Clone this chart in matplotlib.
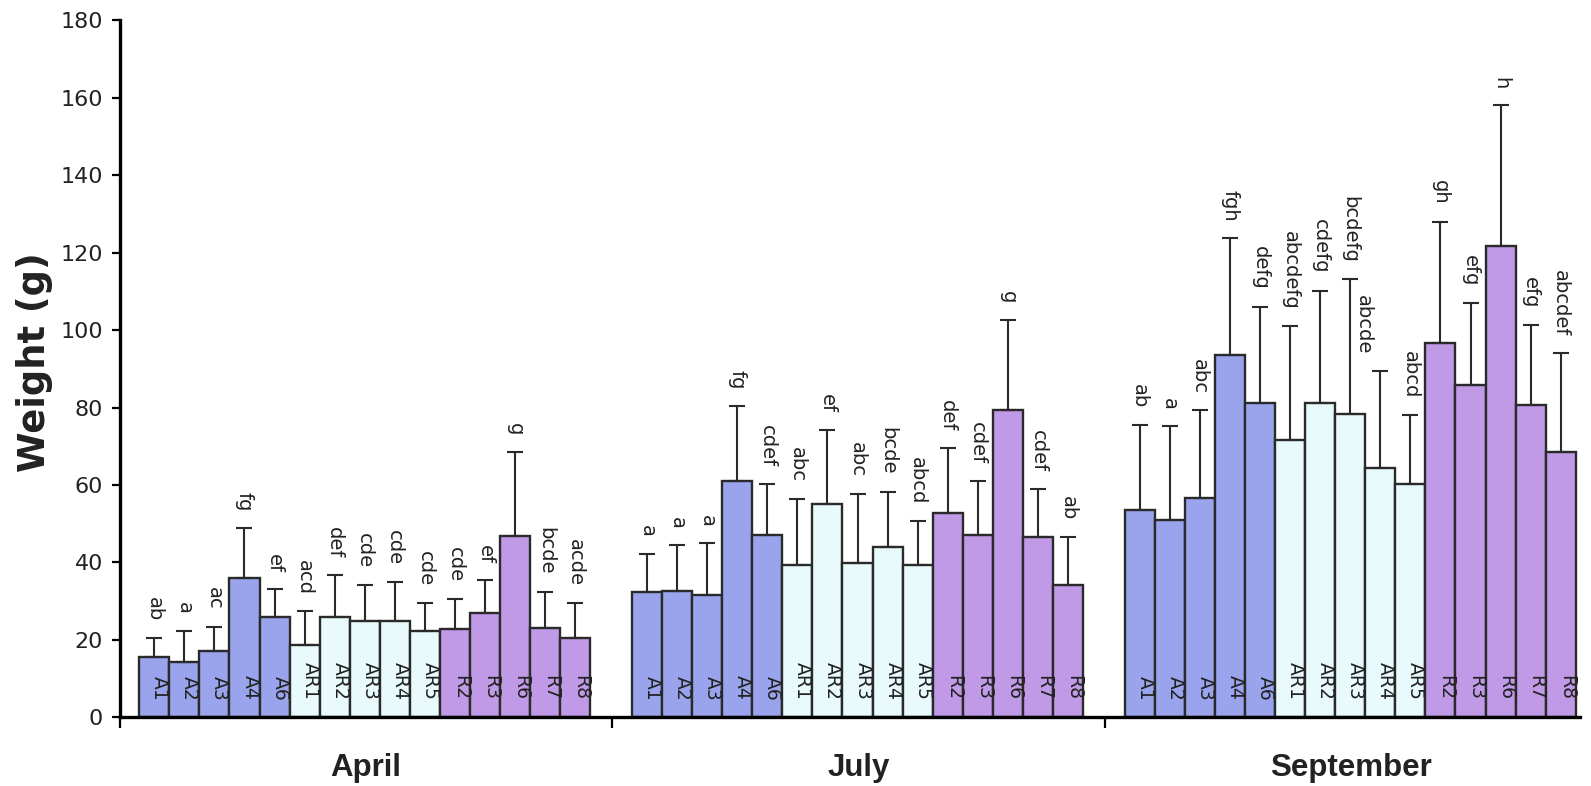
import matplotlib
matplotlib.use("Agg")
import matplotlib.pyplot as plt
import numpy as np

# ---------------- data ----------------
months = ["April", "July", "September"]
treatments = ["A1", "A2", "A3", "A4", "A6",
              "AR1", "AR2", "AR3", "AR4", "AR5",
              "R2", "R3", "R6", "R7", "R8"]

mean_april = [15.5, 14.4, 17.2, 36.1, 26.0, 18.7, 25.8, 24.8, 24.8, 22.4,
              22.8, 26.9, 46.9, 23.2, 20.6]
err_april = [5.1, 8.0, 6.2, 12.9, 7.1, 8.7, 10.9, 9.4, 10.2, 7.1,
             7.7, 8.5, 21.7, 9.3, 8.9]
letters_april = ["ab", "a", "ac", "fg", "ef", "acd", "def", "cde", "cde", "cde",
                 "cde", "ef", "g", "bcde", "acde"]

mean_july = [32.3, 32.7, 31.6, 61.0, 47.1, 39.3, 55.2, 39.8, 43.9, 39.3,
             52.7, 47.1, 79.3, 46.5, 34.2]
err_july = [10.0, 11.8, 13.3, 19.5, 13.1, 17.1, 19.0, 18.0, 14.4, 11.5,
            16.9, 14.0, 23.3, 12.4, 12.3]
letters_july = ["a", "a", "a", "fg", "cdef", "abc", "ef", "abc", "bcde", "abcd",
                "def", "cdef", "g", "cdef", "ab"]

mean_sept = [53.5, 50.9, 56.7, 93.5, 81.3, 71.5, 81.3, 78.3, 64.3, 60.2,
             96.6, 85.8, 121.8, 80.7, 68.4]
err_sept = [22.1, 24.3, 22.6, 30.3, 24.7, 29.5, 28.9, 34.8, 25.2, 17.9,
            31.4, 21.1, 36.2, 20.6, 25.6]
letters_sept = ["ab", "a", "abc", "fgh", "defg", "abcdefg", "cdefg", "bcdefg", "abcde", "abcd",
                "gh", "efg", "h", "efg", "abcdef"]

yticks = [0, 20, 40, 60, 80, 100, 120, 140, 160, 180]

# ---------------- style ----------------
colors = {"A": "#9AA4EC", "AR": "#E8FAFB", "R": "#C09AE6"}
edge = "#2a2a2a"
txt = "#222222"

def kind(name):
    if name.startswith("AR"):
        return "AR"
    return name[0]

fig = plt.figure(figsize=(15.91, 7.86), dpi=100)
ax = fig.add_axes([0.0752, 0.0873, 0.9179, 0.8869])

group_w = 16.38
first_center = 1.15
means_all = [mean_april, mean_july, mean_sept]
errs_all = [err_april, err_july, err_sept]
letters_all = [letters_april, letters_july, letters_sept]
# small manual nudges of a few letter labels (month index, bar index) -> dx
label_dx = {(2, 8): -0.55}

bar_colors = [colors[kind(t)] for t in treatments]
for g, month in enumerate(months):
    x = g * group_w + first_center + np.arange(len(treatments))
    m = np.array(means_all[g])
    e = np.array(errs_all[g])
    ax.errorbar(x, m, yerr=[np.zeros_like(e), e], fmt="none", ecolor=edge,
                elinewidth=1.5, capsize=5.5, capthick=1.5, zorder=3)
    ax.bar(x, m, width=1.0, color=bar_colors, edgecolor=edge, linewidth=1.7, zorder=2)
    for i, name in enumerate(treatments):
        ax.text(x[i] + 0.18, 4.4, name, rotation=-90, ha="center", va="bottom",
                fontsize=13.5, color=txt, zorder=4)
        dx = label_dx.get((g, i), 0.0)
        ax.text(x[i] + dx, m[i] + e[i] + 4.3, letters_all[g][i], rotation=-90,
                ha="center", va="bottom", fontsize=14, color=txt, zorder=4)
    ax.text(g * group_w + group_w / 2, -13.1, month, ha="center", va="center",
            fontsize=22.5, fontweight="bold", color=txt, clip_on=False,
            family="Liberation Sans")

ax.set_xlim(0, 48.55)
ax.set_ylim(0, 180)
ax.set_yticks(yticks)
ax.set_yticklabels([str(v) for v in yticks])
ax.set_xticks([0, group_w, 2 * group_w])
ax.set_xticklabels([])
ax.tick_params(axis="y", direction="out", length=6, width=1.6, pad=6,
               labelsize=16, labelcolor=txt, color="black")
ax.tick_params(axis="x", direction="out", length=8, width=1.6, color="black")

for s in ["top", "right"]:
    ax.spines[s].set_visible(False)
for s in ["left", "bottom"]:
    ax.spines[s].set_linewidth(2.4)
    ax.spines[s].set_color("black")

fig.text(34.5 / 1591, 1 - 362 / 786, "Weight (g)", rotation=90, ha="center", va="center",
         fontsize=26.5, fontweight="bold", color=txt)

fig.savefig("out.png", dpi=100, facecolor="white")
